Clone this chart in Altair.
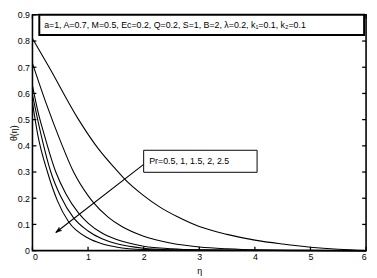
import altair as alt
import pandas as pd

# ---- data ----
pr_values = ["0.5", "1", "1.5", "2", "2.5"]

eta_pr05 = [0, 0.3, 0.83, 1.18, 1.5, 1.65, 2.0, 2.3, 2.6, 3.0, 3.5, 4.0, 4.5, 5.0, 5.5, 6.0]
theta_pr05 = [0.81, 0.70, 0.50, 0.39, 0.31, 0.275, 0.21, 0.165, 0.13, 0.092, 0.062, 0.04, 0.025, 0.013, 0.005, 0.0]

eta_pr1 = [0, 0.25, 0.5, 0.74, 1.0, 1.09, 1.36, 1.6, 2.0, 2.5, 3.0, 3.5, 4.0, 5.0, 6.0]
theta_pr1 = [0.715, 0.56, 0.42, 0.30, 0.21, 0.185, 0.128, 0.093, 0.055, 0.028, 0.014, 0.007, 0.003, 0.001, 0.0]

eta_pr15 = [0, 0.1, 0.21, 0.42, 0.6, 0.83, 1.0, 1.25, 1.5, 2.0, 2.5, 3.0, 4.0, 6.0]
theta_pr15 = [0.63, 0.53, 0.444, 0.30, 0.217, 0.143, 0.105, 0.067, 0.043, 0.017, 0.007, 0.003, 0.001, 0.0]

eta_pr2 = [0, 0.153, 0.33, 0.5, 0.74, 1.0, 1.25, 1.5, 2.0, 2.5, 3.0, 6.0]
theta_pr2 = [0.595, 0.444, 0.30, 0.21, 0.125, 0.075, 0.045, 0.027, 0.009, 0.003, 0.001, 0.0]

eta_pr25 = [0, 0.094, 0.27, 0.45, 0.65, 1.0, 1.25, 1.5, 2.0, 3.0, 6.0]
theta_pr25 = [0.565, 0.444, 0.30, 0.19, 0.11, 0.048, 0.026, 0.014, 0.004, 0.001, 0.0]

x_ticks = [0, 1, 2, 3, 4, 5, 6]
y_ticks = [0, 0.1, 0.2, 0.3, 0.4, 0.5, 0.6, 0.7, 0.8, 0.9]

param_text = "a=1, A=0.7, M=0.5, Ec=0.2, Q=0.2, S=1, B=2, \u03bb=0.2, k\u2081=0.1, k\u2082=0.1"
pr_text = "Pr=0.5, 1, 1.5, 2, 2.5"

# ---- build table ----
series = [(eta_pr05, theta_pr05), (eta_pr1, theta_pr1), (eta_pr15, theta_pr15),
          (eta_pr2, theta_pr2), (eta_pr25, theta_pr25)]
rows = []
for pr, (e, t) in zip(pr_values, series):
    for a, b in zip(e, t):
        rows.append({"Pr": pr, "eta": a, "theta": b})
df = pd.DataFrame(rows)

W, H = 341, 241
FONT = "Liberation Sans"
xs = alt.Scale(domain=[0, 6], nice=False, zero=False)
ys = alt.Scale(domain=[0, 0.9], nice=False, zero=False)
xaxis = alt.Axis(values=x_ticks, format="~g", title="\u03b7", labelPadding=2, titleY=16,
                 titleBaseline="top", titleFontWeight="normal")
yaxis = alt.Axis(values=y_ticks, format="~g", title="\u03b8(\u03b7)", labelPadding=3,
                 titleX=-14, titleFontWeight="normal")


def X(f):
    return alt.X(f, scale=xs, axis=xaxis)


def Y(f):
    return alt.Y(f, scale=ys, axis=yaxis)


lines = alt.Chart(df).mark_line(color="black", strokeWidth=1.1, interpolate="monotone").encode(
    x=X("eta:Q"), y=Y("theta:Q"), detail="Pr:N",
)

xt = pd.DataFrame({"t": x_ticks})
yt = pd.DataFrame({"t": y_ticks})
TL = 4
tick_b = alt.Chart(xt).mark_rule(color="black", strokeWidth=1.3).encode(
    x=X("t:Q"), y=alt.value(H), y2=alt.value(H - TL))
tick_t = alt.Chart(xt).mark_rule(color="black", strokeWidth=1.3).encode(
    x=X("t:Q"), y=alt.value(0), y2=alt.value(TL))
tick_l = alt.Chart(yt).mark_rule(color="black", strokeWidth=1.3).encode(
    y=Y("t:Q"), x=alt.value(0), x2=alt.value(TL))
tick_r = alt.Chart(yt).mark_rule(color="black", strokeWidth=1.3).encode(
    y=Y("t:Q"), x=alt.value(W), x2=alt.value(W - TL))

# arrow
arrow_df = pd.DataFrame({"x": [2.0], "y": [0.329], "x2": [0.42], "y2": [0.069]})
arrow_line = alt.Chart(arrow_df).mark_rule(color="black", strokeWidth=1.1).encode(
    x=X("x:Q"), y=Y("y:Q"), x2="x2:Q", y2="y2:Q")
head = alt.Chart(arrow_df).mark_point(
    shape="M0,0L0.6,1.7L0,1.25L-0.6,1.7Z", filled=True, fill="black", stroke="black",
    strokeWidth=0.5, opacity=1, size=50, angle=232).encode(
    x=X("x2:Q"), y=Y("y2:Q"))

# boxes
pbox = pd.DataFrame({"x": [0.123], "x2": [5.965], "y": [0.9], "y2": [0.823]})
param_box = alt.Chart(pbox).mark_rect(fill="white", stroke="black", strokeWidth=2).encode(
    x=X("x:Q"), x2="x2:Q", y=Y("y:Q"), y2="y2:Q")
ptxt = pd.DataFrame({"x": [0.21], "y": [0.862], "label": [param_text]})
param_label = alt.Chart(ptxt).mark_text(
    align="left", baseline="middle", font=FONT, fontSize=9, color="black").encode(
    x=X("x:Q"), y=Y("y:Q"), text="label:N")

prbox = pd.DataFrame({"x": [2.0], "x2": [4.04], "y": [0.383], "y2": [0.299]})
pr_box = alt.Chart(prbox).mark_rect(fill="white", stroke="black", strokeWidth=1).encode(
    x=X("x:Q"), x2="x2:Q", y=Y("y:Q"), y2="y2:Q")
prtxt = pd.DataFrame({"x": [2.1], "y": [0.341], "label": [pr_text]})
pr_label = alt.Chart(prtxt).mark_text(
    align="left", baseline="middle", font=FONT, fontSize=9, color="black").encode(
    x=X("x:Q"), y=Y("y:Q"), text="label:N")

chart = alt.layer(
    lines, arrow_line, head, tick_b, tick_t, tick_l, tick_r,
    param_box, param_label, pr_box, pr_label,
).properties(
    width=W, height=H,
    padding={"left": 25, "top": 4, "right": 3, "bottom": 25},
    autosize=alt.AutoSizeParams(type="none"),
    background="white",
).configure_view(
    stroke="black", strokeWidth=1.6,
).configure_axis(
    domain=False, ticks=False, grid=False,
    labelFont=FONT, labelFontSize=9, labelColor="black",
    titleFont=FONT, titleFontSize=9, titleColor="black",
)

chart.save("out.html", embed_options={"renderer": "svg", "actions": False})
